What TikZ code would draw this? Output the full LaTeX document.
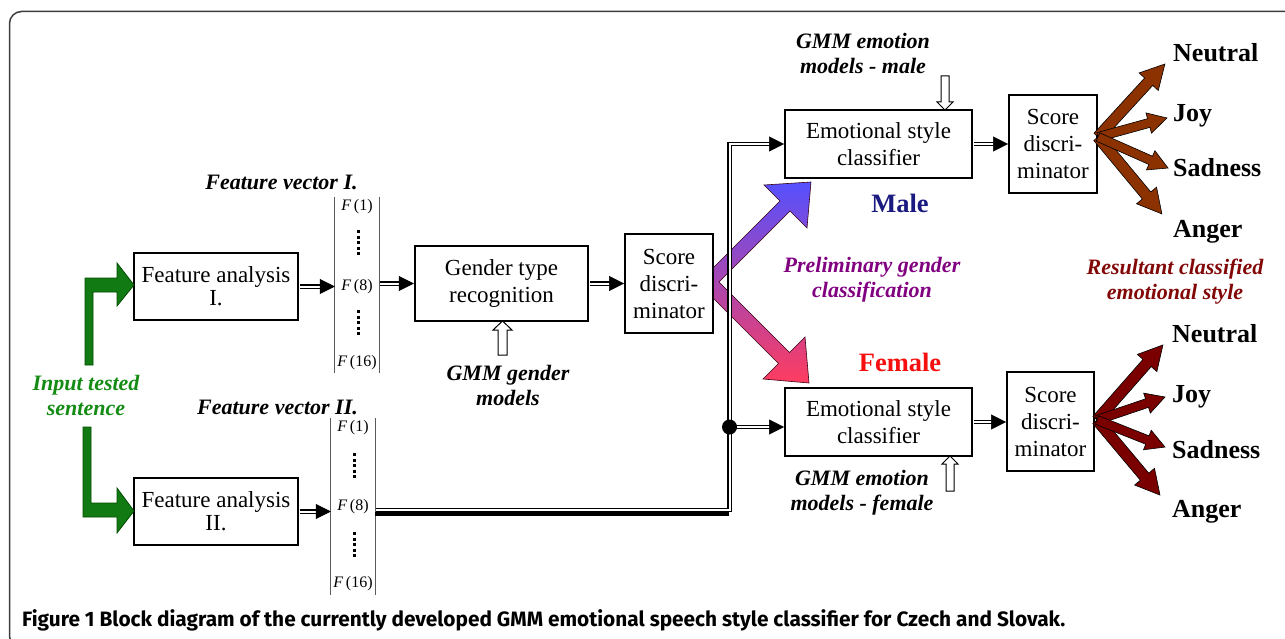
\documentclass[tikz,border=0pt]{standalone}
\usepackage{fontspec}
\setmainfont{Liberation Serif}
\newfontfamily\capfont{Fira Sans}
\usetikzlibrary{arrows.meta,calc}
\pgfdeclarelayer{bg}
\pgfsetlayers{bg,main}
\definecolor{gfill}{RGB}{18,122,18}
\definecolor{gtext}{RGB}{20,140,20}
\definecolor{navyt}{RGB}{26,26,128}
\definecolor{femt}{RGB}{245,15,15}
\definecolor{purt}{RGB}{128,0,128}
\definecolor{rest}{RGB}{130,8,8}
\definecolor{brownA}{RGB}{140,50,0}
\definecolor{brownB}{RGB}{122,0,0}
\definecolor{gradT}{RGB}{85,80,255}
\definecolor{gradM}{RGB}{160,70,230}
\definecolor{gradB}{RGB}{255,60,95}
\definecolor{framec}{RGB}{60,60,60}
\definecolor{barc}{RGB}{90,90,90}
\newcommand\darr[2]{%
  \draw[dblline, shorten >=13pt] #1 -- #2;
  \draw[tipline] #1 -- #2;}
\newcommand\blockarr[7]{%
  \begin{scope}[shift={#1}, rotate=#2]
  \filldraw[fill=#7, draw=black, line width=0.6pt, line join=miter]
    (0,-#4/2) -- ({#3-#6},-#4/2) -- ({#3-#6},-#5/2) -- (#3,0)
    -- ({#3-#6},#5/2) -- ({#3-#6},#4/2) -- (0,#4/2) -- cycle;
  \end{scope}}
\begin{document}
\begin{tikzpicture}[x=1pt,y=-1pt,
  boxa/.style={draw, fill=white, line width=1.4pt, align=center, inner sep=0pt,
    font=\fontsize{23}{23}\selectfont},
  boxb/.style={draw, fill=white, line width=2pt, align=center, inner sep=0pt,
    font=\fontsize{23}{27}\selectfont},
  lab/.style={inner sep=0pt, align=center, font=\fontsize{22}{25}\selectfont\bfseries\itshape},
  vf/.style={inner sep=0pt, font=\fontsize{16}{16}\selectfont},
  emo/.style={inner sep=0pt, anchor=base west, font=\fontsize{26}{26}\selectfont\bfseries},
  dblline/.style={double, double distance=2pt, line width=1.1pt, shorten <=1pt},
  tipline/.style={white, line width=0.5pt, shorten <=1pt,
    -{Triangle[length=15pt,width=15pt,color=black]}},
  vdots/.style={line width=3pt, dash pattern=on 3pt off 2.6pt},
  bar/.style={barc, line width=1pt},
  openarr/.style={fill=white, draw=black, line width=1pt, line join=miter}
]
\useasboundingbox (0,0) rectangle (1285,639);
% frame
\draw[framec, line width=1.5pt, rounded corners=12pt] (60,648) -- (9.5,648) -- (9.5,11.5) -- (1300,11.5);

% gradient chevron (background)
\begin{pgfonlayer}{bg}
\shade[top color=gradT, middle color=gradM, bottom color=gradB]
  (698,283) -- (780,201) -- (764,185) -- (811,182) -- (807,228) -- (790,211)
  -- (719,282) -- (789.5,352.5) -- (805,337) -- (809,383) -- (763,379)
  -- (778.5,363.5) -- cycle;
\draw[line width=0.6pt, black!70!purple, line join=miter]
  (698,283) -- (780,201) -- (764,185) -- (811,182) -- (807,228) -- (790,211)
  -- (719,282) -- (789.5,352.5) -- (805,337) -- (809,383) -- (763,379)
  -- (778.5,363.5) -- cycle;
\end{pgfonlayer}

% boxes
\node[boxa, minimum width=164pt, minimum height=67pt] (fa1) at (216,286.5) {Feature analysis\\I.};
\node[boxa, minimum width=164pt, minimum height=67pt] (fa2) at (216,511.5) {Feature analysis\\II.};
\node[boxb, line width=2.4pt, minimum width=173pt, minimum height=75pt] (gtr) at (501.5,283.5) {Gender type\\recognition};
\node[boxb, minimum width=88pt, minimum height=99pt] (sd1) at (669,283.5) {Score\\discri-\\minator};
\node[boxb, minimum width=187pt, minimum height=68pt] (esc1) at (878.5,144) {Emotional style\\classifier};
\node[boxb, minimum width=187pt, minimum height=68pt] (esc2) at (878.5,422) {Emotional style\\classifier};
\node[boxb, minimum width=88pt, minimum height=98pt] (sd2) at (1053,144) {Score\\discri-\\minator};
\node[boxb, minimum width=87pt, minimum height=99pt] (sd3) at (1050.5,421.5) {Score\\discri-\\minator};

% feature vectors
\node[inner sep=0pt, minimum width=44pt, minimum height=176pt] (v1) at (357,285) {};
\draw[bar] (v1.north west) -- (v1.south west);
\draw[bar] (v1.north east) -- (v1.south east);
\node[vf] (v1a) at (357,207) {\textit{F}\,(1)};
\node[vf] (v1b) at (357,287) {\textit{F}\,(8)};
\node[vf] (v1c) at (357,363) {\textit{F}\,(16)};
\draw[vdots] (358,230) -- (358,257);
\draw[vdots] (358,310) -- (358,337);

\node[inner sep=0pt, minimum width=44pt, minimum height=177pt] (v2) at (353,506.5) {};
\draw[bar] (v2.north west) -- (v2.south west);
\draw[bar] (v2.north east) -- (v2.south east);
\node[vf] (v2a) at (353,428) {\textit{F}\,(1)};
\node[vf] (v2b) at (353,507) {\textit{F}\,(8)};
\node[vf] (v2c) at (353,584) {\textit{F}\,(16)};
\draw[vdots] (354,453) -- (354,480);
\draw[vdots] (354,532) -- (354,559);

% labels
\node[lab] (fv1) at (281.5,182) {Feature vector I.};
\node[lab] (fv2) at (277.5,407) {Feature vector II.};
\node[lab, gtext] (its) at (86,395) {Input tested\\sentence};
\node[lab] (gmg) at (508,385) {GMM gender\\models};
\node[lab] (gmm) at (863,53) {GMM emotion\\models - male};
\node[lab] (gmf) at (862,493) {GMM emotion\\models - female};
\node[lab, purt] (pgc) at (872,280) {Preliminary gender\\classification};
\node[lab, rest] (rcs) at (1175,282) {Resultant classified\\emotional style};
\node[inner sep=0pt, font=\fontsize{26.5}{26.5}\selectfont\bfseries, navyt] (male) at (900,203) {Male};
\node[inner sep=0pt, font=\fontsize{26.5}{26.5}\selectfont\bfseries, femt] (female) at (900,362) {Female};

% green input arrows
\filldraw[fill=gfill, draw=black!70!green, line width=0.8pt, line join=miter]
  (85,365) -- (93,365) -- (93,292) -- (117,292) -- (117,306) -- (134,285)
  -- (117,263) -- (117,278) -- (85,278) -- cycle;
\filldraw[fill=gfill, draw=black!70!green, line width=0.8pt, line join=miter]
  (83,427) -- (91,427) -- (91,503) -- (117,503) -- (117,488) -- (134,511)
  -- (117,533) -- (117,517) -- (83,517) -- cycle;

% double arrows
\darr{(fa1.east)}{(fa1.east -| v1.west)}
\darr{(v1.east |- gtr.west)}{(gtr.west)}
\darr{(gtr.east)}{(gtr.east -| sd1.west)}
\darr{(fa2.east)}{(fa2.east -| v2.west)}
\darr{(esc1.east)}{(esc1.east -| sd2.west)}
\darr{(esc2.east)}{(esc2.east -| sd3.west)}

% bus
\coordinate (busC) at (729.5,510);
\coordinate (j) at (729.5,427);
\draw[line width=3.5pt] ($(v2.east |- busC)+(0,3.8)$) -- ($(busC)+(-1,3.8)$);
\draw[dblline, shorten >=13pt] (v2.east |- busC) -- (busC) -- (busC |- esc1.west) -- (esc1.west);
\draw[tipline] (busC |- esc1.west) -- (esc1.west);
\darr{(j)}{(j -| esc2.west)}
\fill (j) circle (7.5pt);

% open arrows (GMM models)
\filldraw[openarr] (502.5,321) -- (493,330) -- (498,330) -- (498,355) -- (507,355) -- (507,330) -- (512,330) -- cycle;
\filldraw[openarr] (945,110) -- (937,102) -- (941,102) -- (941,76) -- (949,76) -- (949,102) -- (953,102) -- cycle;
\filldraw[openarr] (950,456) -- (942,464) -- (946,464) -- (946,491) -- (954,491) -- (954,464) -- (958,464) -- cycle;

% brown output arrows (top)
\blockarr{(1098,137)}{47.5}{99}{11}{26}{24}{brownA}
\blockarr{(1098,137)}{-50.3}{100}{11}{26}{24}{brownA}
\blockarr{(1098,137)}{15.4}{71.6}{9}{21}{19}{brownA}
\blockarr{(1098,137)}{-23.9}{76.6}{9}{21}{19}{brownA}
% bottom
\blockarr{(1097,420)}{48.7}{99.9}{11}{26}{24}{brownB}
\blockarr{(1097,420)}{-50}{98}{11}{26}{24}{brownB}
\blockarr{(1097,420)}{18.7}{71.8}{9}{21}{19}{brownB}
\blockarr{(1097,420)}{-21.7}{73.2}{9}{21}{19}{brownB}

\node[emo] (n1) at (1173,62) {Neutral};
\node[emo] (j1) at (1173,122) {Joy};
\node[emo] (s1) at (1173,177) {Sadness};
\node[emo] (a1) at (1173,237) {Anger};
\node[emo] (n2) at (1172,342) {Neutral};
\node[emo] (j2) at (1172,402) {Joy};
\node[emo] (s2) at (1172,458) {Sadness};
\node[emo] (a2) at (1172,517) {Anger};

% caption
\node[anchor=base west, inner sep=0pt] (cap) at (22,626)
  {\resizebox{1043pt}{!}{\capfont\fontsize{18}{20}\selectfont\bfseries Figure 1 Block diagram of the currently developed GMM emotional speech style classifier for Czech and Slovak.}};
\end{tikzpicture}
\end{document}
